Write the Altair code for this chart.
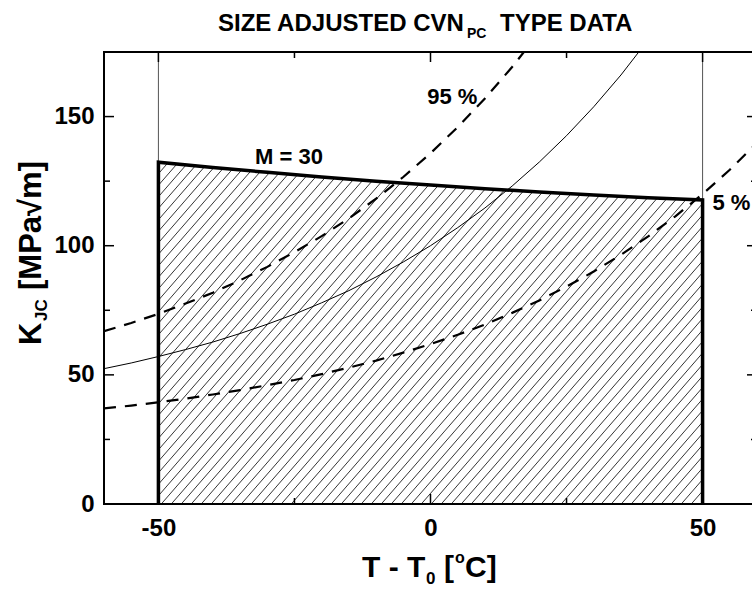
import altair as alt
import pandas as pd
import numpy as np

# ---------------- data ----------------
# median master curve (thin solid)
T_med = [-60, -55, -50, -45, -40, -35, -30, -25, -20, -15, -10, -5, 0, 5, 10, 15, 20, 25, 30, 35, 40]
K_med = [52.4, 54.6, 57.1, 59.8, 62.7, 66.0, 69.6, 73.5, 77.9, 82.6, 87.9, 93.7, 100.0, 107.0,
         114.6, 123.1, 132.4, 142.6, 153.8, 166.1, 179.7]
# 95 % bound (dashed)
T_95 = [-60, -55, -50, -45, -40, -35, -30, -25, -20, -15, -10, -5, 0, 5, 10, 15, 20]
K_95 = [66.9, 70.1, 73.6, 77.6, 81.8, 86.6, 91.8, 97.5, 103.7, 110.6, 118.2, 126.6, 135.8,
        145.9, 157.0, 169.2, 182.6]
# 5 % bound (dashed)
T_05 = [-60, -55, -50, -45, -40, -35, -30, -25, -20, -15, -10, -5, 0, 5, 10, 15, 20, 25, 30,
        35, 40, 45, 50, 55, 60]
K_05 = [37.0, 38.1, 39.4, 40.8, 42.4, 44.1, 46.0, 48.0, 50.3, 52.8, 55.5, 58.6, 61.9, 65.5,
        69.5, 74.0, 78.8, 84.2, 90.0, 96.5, 103.6, 111.4, 120.0, 129.4, 139.8]
# M = 30 limit (upper edge of the hatched validity window)
T_lim = [-50, -40, -30, -20, -10, 0, 10, 20, 30, 40, 50]
K_lim = [132.3, 130.3, 128.4, 126.6, 125.0, 123.5, 122.1, 120.8, 119.6, 118.6, 117.7]

x_major = [-50, 0, 50]
x_minor = [-25, 25]
y_labels = [0, 50, 100, 150]
y_major = [50, 100, 150]
y_minor = [25, 75, 125]

# ---------------- layout ----------------
W, H = 653, 452
XMIN, XMAX = -60, 60
YMIN, YMAX = 0, 175
FONT = "Liberation Sans"

xs = alt.Scale(domain=[XMIN, XMAX], nice=False, zero=False)
ys = alt.Scale(domain=[YMIN, YMAX], nice=False, zero=False)

AX_X = alt.Axis(values=x_major, grid=False, ticks=False, domain=False, title=None,
                labelFont=FONT, labelFontSize=24, labelFontWeight="bold",
                labelColor="black", labelPadding=12, labelExpr="'' + datum.value")
AX_Y = alt.Axis(values=y_labels, grid=False, ticks=False, domain=False, title=None,
                labelFont=FONT, labelFontSize=24, labelFontWeight="bold",
                labelColor="black", labelPadding=10, labelExpr="'' + datum.value")


def X(f):
    return alt.X(f, scale=xs, axis=AX_X)


def Y(f):
    return alt.Y(f, scale=ys, axis=AX_Y)


# hatch segments inside the window (derived from the limit curve)
sx = W / (XMAX - XMIN)
sy = H / (YMAX - YMIN)
Xl = (-50 - XMIN) * sx
Xr = (50 - XMIN) * sx
fine = np.linspace(Xl, Xr, 3000)
U = np.interp(fine, (np.array(T_lim) - XMIN) * sx, np.array(K_lim) * sy)
m = 1.15
spacing = 10.0
rows = []
for c in np.arange(Xl - U.max() / m, Xr, spacing):
    Yv = m * (fine - c)
    inside = (Yv >= 0) & (Yv <= U)
    if not inside.any():
        continue
    idx = np.where(inside)[0]
    i0, i1 = idx[0], idx[-1]
    if i1 - i0 < 1:
        continue
    rows.append({"x": fine[i0] / sx + XMIN, "y": Yv[i0] / sy,
                 "x2": fine[i1] / sx + XMIN, "y2": Yv[i1] / sy})
hatch_df = pd.DataFrame(rows)

hatch = alt.Chart(hatch_df).mark_rule(color="black", strokeWidth=0.8).encode(
    x=X("x:Q"), y=Y("y:Q"), x2="x2:Q", y2="y2:Q")

# thin vertical lines above window
vdf = pd.DataFrame({"T": [T_lim[0], T_lim[-1]], "K": [K_lim[0], K_lim[-1]], "K2": [YMAX, YMAX]})
vlines = alt.Chart(vdf).mark_rule(color="#555555", strokeWidth=1).encode(
    x=X("T:Q"), y=Y("K:Q"), y2="K2:Q")

median = alt.Chart(pd.DataFrame({"T": T_med, "K": K_med})).mark_line(
    color="black", strokeWidth=1, clip=True).encode(x=X("T:Q"), y=Y("K:Q"))

d95 = alt.Chart(pd.DataFrame({"T": T_95, "K": K_95})).mark_line(
    color="black", strokeWidth=2.2, strokeDash=[12, 9], clip=True).encode(
    x=X("T:Q"), y=Y("K:Q"))
d05 = alt.Chart(pd.DataFrame({"T": T_05, "K": K_05})).mark_line(
    color="black", strokeWidth=2.2, strokeDash=[12, 9], clip=True).encode(
    x=X("T:Q"), y=Y("K:Q"))

bnd_df = pd.DataFrame({"T": [T_lim[0]] + T_lim + [T_lim[-1]],
                       "K": [0] + K_lim + [0]})
bnd_df["i"] = range(len(bnd_df))
boundary = alt.Chart(bnd_df).mark_line(color="black", strokeWidth=3.5, strokeJoin="miter").encode(
    x=X("T:Q"), y=Y("K:Q"), order="i:Q")


# inward ticks
def xticks(vals, length):
    df = pd.DataFrame({"T": vals})
    bot = alt.Chart(df).mark_rule(color="black", strokeWidth=1.5).encode(
        x=X("T:Q"), y=alt.value(H), y2=alt.value(H - length))
    top = alt.Chart(df).mark_rule(color="black", strokeWidth=1.5).encode(
        x=X("T:Q"), y=alt.value(0), y2=alt.value(length))
    return [bot, top]


def yticks(vals, length):
    df = pd.DataFrame({"K": vals})
    left = alt.Chart(df).mark_rule(color="black", strokeWidth=1.5).encode(
        y=Y("K:Q"), x=alt.value(0), x2=alt.value(length))
    right = alt.Chart(df).mark_rule(color="black", strokeWidth=1.5).encode(
        y=Y("K:Q"), x=alt.value(W), x2=alt.value(W - length))
    return [left, right]


ticks = xticks(x_major, 10) + xticks(x_minor, 6) + yticks(y_major, 10) + yticks(y_minor, 6)

# data-positioned labels
lab_df = pd.DataFrame({"T": [-26, 4], "K": [134.3, 157.6], "t": ["M = 30", "95 %"]})
labels = alt.Chart(lab_df).mark_text(font=FONT, fontSize=22, fontWeight="bold",
                                     color="black", align="center", baseline="middle").encode(
    x=X("T:Q"), y=Y("K:Q"), text="t:N")
lab5 = alt.Chart(pd.DataFrame({"T": [51.8], "K": [116.5], "t": ["5 %"]})).mark_text(
    font=FONT, fontSize=22, fontWeight="bold", color="black", align="left",
    baseline="middle").encode(x=X("T:Q"), y=Y("K:Q"), text="t:N")

# text pieces in pixel space (relative to plot origin at 104, 52)
OX, OY = 104, 52
one = pd.DataFrame({"a": [0]})


def txt(s, px, py, size, angle=0):
    return alt.Chart(one).mark_text(text=s, font=FONT, fontSize=size, fontWeight="bold",
                                    color="black", align="left", baseline="alphabetic",
                                    angle=angle).encode(
        x=alt.value(px - OX), y=alt.value(py - OY))


texts = [
    # title
    txt("SIZE ADJUSTED CVN", 218, 31, 24),
    txt("PC", 467, 38, 14),
    txt("TYPE DATA", 500, 31, 24),
    # x title
    txt("T - T", 362, 577, 30),
    txt("0", 426, 584, 17),
    txt("[", 444, 577, 30),
    txt("o", 455, 563, 16),
    txt("C]", 465, 577, 30),
    # y title (rotated)
    txt("K", 41, 345, 31, 270),
    txt("JC", 47, 321, 17, 270),
    txt("[MPa\u221am]", 41, 290, 31, 270),
]

chart = alt.layer(median, hatch, vlines, d95, d05, boundary, *ticks, labels, lab5, *texts).properties(
    width=W, height=H,
    autosize=alt.AutoSizeParams(type="none"),
    padding={"left": OX, "top": OY, "right": 752 - OX - W, "bottom": 590 - OY - H},
).configure_view(stroke="black", strokeWidth=2)

chart.save("out.html", embed_options={"renderer": "svg", "actions": False})
